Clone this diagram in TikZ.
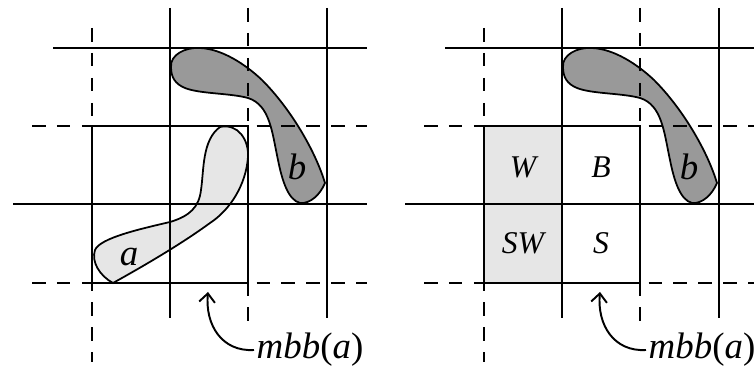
\documentclass[tikz,border=0pt]{standalone}
\usepackage{fontspec}
\setmainfont{Liberation Serif}
\usepackage{xcolor}
\usetikzlibrary{arrows.meta,positioning}
\definecolor{lightgray}{RGB}{230,230,230}
\definecolor{midgray}{RGB}{153,153,153}

\begin{document}
\begin{tikzpicture}[x=0.02cm, y=-0.02cm, line width=1.1pt,
    gridline/.style={line width=1.1pt},
    dashline/.style={line width=1.1pt, dash pattern=on 7.7pt off 6.5pt},
    blob/.style={draw, line width=1pt},
    bigtxt/.style={font=\fontsize{21}{25}\selectfont\itshape, inner sep=1pt},
    celltxt/.style={font=\fontsize{18}{21}\selectfont\itshape, inner sep=1pt}]
\useasboundingbox (0,0) rectangle (754,367);

% left panel: region a
\draw[blob, fill=lightgray] (113,283) .. controls (100,276) and (91,262) .. (95,250)
    .. controls (100,238) and (140,229) .. (170,222)
    .. controls (190,216) and (199,207) .. (201,190)
    .. controls (204,170) and (202,140) .. (220,127)
    .. controls (238,123) and (249,140) .. (248,157)
    .. controls (246,185) and (230,210) .. (210,223)
    .. controls (180,245) and (140,268) .. (113,283) -- cycle;
\node[bigtxt] (a) at (129,257) {a};

% cells of the direction matrix (right panel)
\fill[lightgray] (484,126) rectangle (562,283);

% both panels: grid and region b
\foreach \dx in {0,392} {
  \begin{scope}[xshift=\dx*0.02cm]
    \draw[blob, fill=midgray] (171,67) .. controls (170,55) and (185,47) .. (200,48)
        .. controls (222,49) and (245,64) .. (262,80)
        .. controls (290,108) and (315,150) .. (325,183)
        .. controls (320,195) and (310,204) .. (300,203)
        .. controls (288,200) and (282,180) .. (278,160)
        .. controls (272,132) and (270,105) .. (248,98)
        .. controls (230,93) and (200,94) .. (185,88)
        .. controls (175,84) and (171,77) .. (171,67) -- cycle;
    \draw[gridline] (170,8) -- (170,318);
    \draw[gridline] (327,8) -- (327,318);
    \draw[dashline] (92,28) -- (92,362);
    \draw[dashline] (248,8) -- (248,323);
    \draw[gridline] (53,48) -- (367,48);
    \draw[gridline] (13,204) -- (367,204);
    \draw[dashline] (32,126) -- (367,126);
    \draw[dashline] (32,283) -- (367,283);
    \draw[gridline] (92,126) rectangle (248,283);
  \end{scope}
}
\node[bigtxt] (b) at (297,167) {b};
\node[bigtxt] (b2) at (689,167) {b};

% labels of the cells
\node[celltxt] (W) at (523,167) {W};
\node[celltxt] (B) at (601,167) {B};
\node[celltxt] (SW) at (523,243) {SW};
\node[celltxt] (S) at (601,243) {S};

% mbb(a) labels with their arrows
\node[bigtxt, anchor=west] (mbbA) at (254,350) {mbb\upshape(\itshape a\upshape)};
\node[bigtxt, anchor=west] (mbbB) at (646,350) {mbb\upshape(\itshape a\upshape)};
\coordinate (tipA) at (208,292);
\coordinate (tipB) at (600,292);
\draw[line width=1.1pt, -{Straight Barb[length=5pt,width=9pt]}] (mbbA.west) .. controls (222,352) and (205,325) .. (tipA);
\draw[line width=1.1pt, -{Straight Barb[length=5pt,width=9pt]}] (mbbB.west) .. controls (614,352) and (597,325) .. (tipB);
\end{tikzpicture}
\end{document}
